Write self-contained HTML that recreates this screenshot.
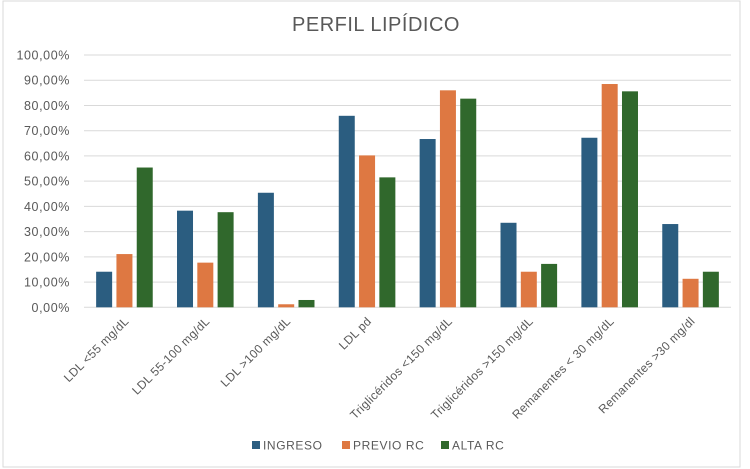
<!DOCTYPE html>
<html><head><meta charset="utf-8"><style>
body{margin:0;background:#fff;}
svg{display:block;font-family:"Liberation Sans",Arial,sans-serif;}
</style></head><body>
<svg id="chart" width="750" height="469">
<rect x="3" y="1" width="737" height="466" fill="#fff" stroke="#d9d9d9"/>
<text x="376" y="31" text-anchor="middle" font-size="20" letter-spacing="0.5" fill="#595959">PERFIL LIPÍDICO</text>
<g id="grid"></g><g id="bars"></g><g id="xlabels"></g>
<g>
<g><rect x="252" y="441" width="8" height="8" fill="#2b5d80"/><text x="263" y="449.5" font-size="12" letter-spacing="0.6" fill="#595959">INGRESO</text></g>
<g><rect x="342" y="441" width="8" height="8" fill="#de7842"/><text x="353" y="449.5" font-size="12" letter-spacing="0.6" fill="#595959">PREVIO RC</text></g>
<g><rect x="441" y="441" width="8" height="8" fill="#30682c"/><text x="452" y="449.5" font-size="12" letter-spacing="0.6" fill="#595959">ALTA RC</text></g>
</g>
</svg>
<script>
const categories=["LDL <55 mg/dL","LDL 55-100 mg/dL","LDL >100 mg/dL","LDL pd","Triglicéridos <150 mg/dL","Triglicéridos >150 mg/dL","Remanentes < 30 mg/dL","Remanentes >30 mg/dl"];
const ingreso=[14.1,38.3,45.4,75.9,66.7,33.5,67.2,33.0];
const previo=[21.1,17.7,1.2,60.2,86.0,14.1,88.5,11.3];
const alta=[55.4,37.7,2.9,51.5,82.7,17.2,85.6,14.1];
const ticks=[0,10,20,30,40,50,60,70,80,90,100];
const tickLabels=["0,00%","10,00%","20,00%","30,00%","40,00%","50,00%","60,00%","70,00%","80,00%","90,00%","100,00%"];
const NS="http://www.w3.org/2000/svg";
const X0=84,X1=731,Y0=307.3,Y1=55;
function y(v){return Y0-(v/100)*(Y0-Y1);}
const cw=(X1-X0)/categories.length;
function xc(i){return X0+cw*(i+0.5);}
function mk(t,a,p){const e=document.createElementNS(NS,t);for(const k in a)e.setAttribute(k,a[k]);p.appendChild(e);return e;}
const grid=document.getElementById('grid');
ticks.forEach((t,i)=>{
 const l=mk('line',{x1:X0,x2:X1,y1:y(t),y2:y(t),stroke:'#d9d9d9','stroke-width':1},grid);
 
 
 const tx=mk('text',{x:70,y:y(t)+4.5,'text-anchor':'end','font-size':12.5,'letter-spacing':0.6,fill:'#595959'},grid);
 tx.textContent=tickLabels[i];
 
 
});
const series=[[ingreso,'#2b5d80','ingreso'],[previo,'#de7842','previo-rc'],[alta,'#30682c','alta-rc']];
const bars=document.getElementById('bars');
const bw=16,gap=4.3;
categories.forEach((c,i)=>{
 series.forEach((s,j)=>{
  const v=s[0][i];
  const bx=xc(i)+(j-1)*(bw+gap)-bw/2;
  const r=mk('rect',{x:bx,y:y(v),width:bw,height:Y0-y(v),fill:s[1]},bars);
  
  
 });
 const t=mk('text',{x:0,y:0,'text-anchor':'end','font-size':12,'letter-spacing':0.3,fill:'#595959',transform:'translate('+(xc(i)+5)+',322) rotate(-45)'},document.getElementById('xlabels'));
 t.textContent=c;
 
 
});
</script>
</body></html>
